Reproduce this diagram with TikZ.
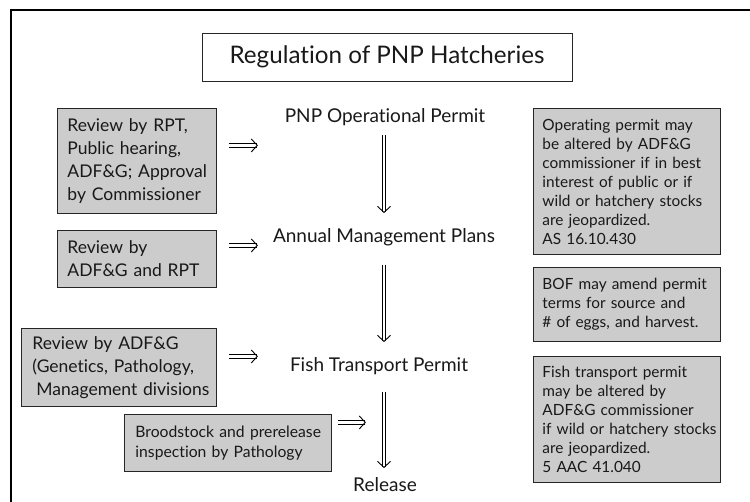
\documentclass[tikz,border=0pt]{standalone}
\usepackage{fontspec}
\setmainfont{Lato}[Ligatures=NoCommon]
\usetikzlibrary{arrows.meta}
\begin{document}
\begin{tikzpicture}[x=1pt,y=-1pt,
  gbox/.style={draw=black!85, line width=0.9pt, fill=black!20, anchor=north west, align=left, inner ysep=0pt, text=black!90},
  lbig/.style={font=\fontsize{17.5}{22.8}\selectfont},
  lmid/.style={font=\fontsize{15.7}{19.5}\selectfont},
  lsmall/.style={font=\fontsize{15.4}{19}\selectfont},
  stagelabel/.style={font=\fontsize{19}{24}\selectfont, anchor=base, text=black!90},
  imp/.style={double=white, double distance=2.6pt, line width=0.8pt, -{Straight Barb[length=6pt,width=13pt,line width=0.9pt]}},
]
\useasboundingbox (0,0) rectangle (750,502);
\fill[white] (0,0) rectangle (750,502);
\draw[line width=2.6pt] (11,502) -- (11,10) -- (750,10);

\node[draw=black!85, line width=0.9pt, minimum width=370pt, minimum height=48pt, inner sep=0pt,
  font=\fontsize{24.2}{30}\selectfont, text=black!90] (title) at (387,57) {Regulation of PNP Hatcheries};

% left boxes
\node[gbox, lbig, text width=139pt, inner xsep=10pt, minimum height=105pt] (b1) at (57,108)
  {\mbox{Review by RPT,}\\\mbox{Public hearing,}\\\mbox{ADF\&G; Approval}\\\mbox{by Commissioner}};
\node[gbox, lbig, text width=139pt, inner xsep=10pt, minimum height=57pt] (b2) at (57,230)
  {\mbox{Review by}\\\mbox{ADF\&G and RPT}};
\node[gbox, lbig, text width=173pt, inner xsep=11pt, minimum height=78pt] (b3) at (21,328)
  {\mbox{Review by ADF\&G}\\\mbox{(Genetics, Pathology,}\\\mbox{\hspace*{4pt}Management divisions}};
\node[gbox, lmid, text width=185pt, inner xsep=11pt, minimum height=57pt] (b4) at (124,414)
  {\mbox{Broodstock and prerelease}\\\mbox{inspection by Pathology}};

% right boxes
\node[gbox, lsmall, text width=169pt, inner xsep=9pt, minimum height=146pt] (r1) at (533,108)
  {\mbox{Operating permit may}\\\mbox{be altered by ADF\&G}\\\mbox{commissioner if in best}\\\mbox{interest of public or if}\\\mbox{wild or hatchery stocks}\\\mbox{are jeopardized.}\\\mbox{AS 16.10.430}};
\node[gbox, lsmall, text width=169pt, inner xsep=9pt, minimum height=74pt] (r2) at (533,267)
  {\mbox{BOF may amend permit}\\\mbox{terms for source and}\\\mbox{\# of eggs, and harvest.}};
\node[gbox, lsmall, text width=169pt, inner xsep=9pt, minimum height=126pt] (r3) at (533,356)
  {\mbox{Fish transport permit}\\\mbox{may be altered by}\\\mbox{ADF\&G commissioner}\\\mbox{if wild or hatchery stocks}\\\mbox{are jeopardized.}\\\mbox{5 AAC 41.040}};

% stage labels
\node[stagelabel] (pnp) at (385,123) {PNP Operational Permit};
\node[stagelabel] (amp) at (384,243) {Annual Management Plans};
\node[stagelabel] (ftp) at (379,372) {Fish Transport Permit};
\node[stagelabel] (rel) at (385,492) {Release};

% vertical arrows
\coordinate (v1a) at (384,135); \coordinate (v1b) at (384,213);
\coordinate (v2a) at (384,265); \coordinate (v2b) at (384,342);
\coordinate (v3a) at (384,392); \coordinate (v3b) at (384,468);
\draw[imp] (v1a) -- (v1b);
\draw[imp] (v2a) -- (v2b);
\draw[imp] (v3a) -- (v3b);

% horizontal arrows
\draw[imp] ([xshift=12pt,yshift=15.5pt]b1.east) -- ++(29,0);
\draw[imp] ([xshift=12pt,yshift=13.5pt]b2.east) -- ++(29,0);
\draw[imp] ([xshift=12pt,yshift=11pt]b3.east) -- ++(29,0);
\draw[imp] ([xshift=6pt,yshift=20.5pt]b4.east) -- ++(28,0);
\end{tikzpicture}
\end{document}
